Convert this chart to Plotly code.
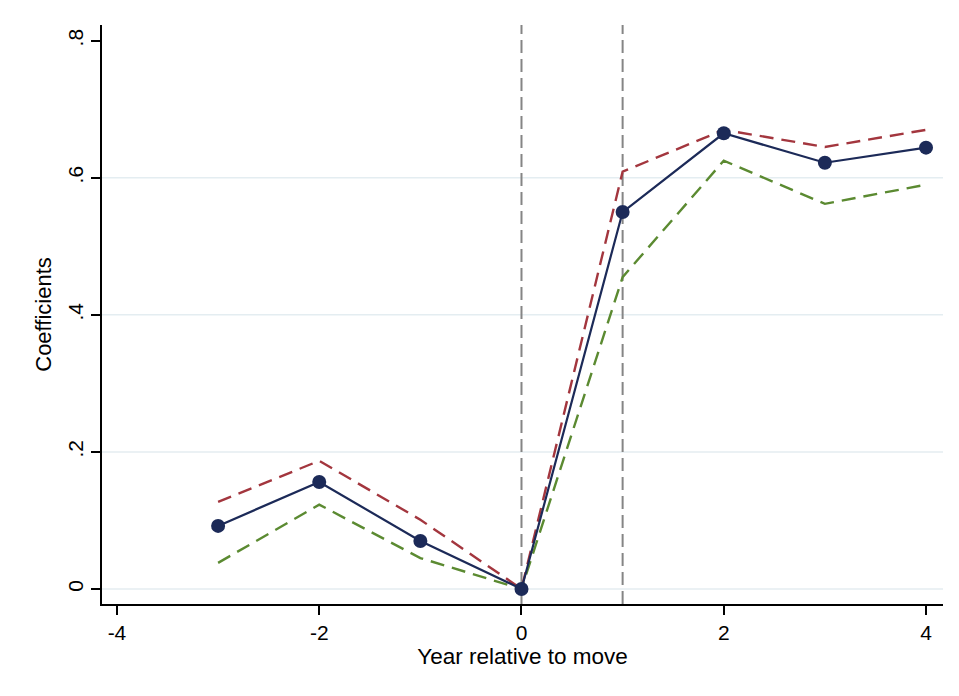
import plotly.graph_objects as go

years = [-3, -2, -1, 0, 1, 2, 3, 4]
coef = [0.092, 0.156, 0.070, 0.0, 0.550, 0.665, 0.622, 0.644]
upper = [0.127, 0.187, 0.101, 0.0, 0.609, 0.670, 0.645, 0.670]
lower = [0.038, 0.123, 0.045, 0.0, 0.455, 0.625, 0.562, 0.590]
vlines = [0, 1]
ytick_vals = [0, 0.2, 0.4, 0.6, 0.8]
ytick_text = ["0", ".2", ".4", ".6", ".8"]
grid_vals = [0, 0.2, 0.4, 0.6]
xtick_vals = [-4, -2, 0, 2, 4]
xtick_text = ["-4", "-2", "0", "2", "4"]

fig = go.Figure()
fig.add_trace(go.Scatter(x=years, y=upper, mode="lines",
                         line=dict(color="#a3363e", width=2.4, dash="14px,8px")))
fig.add_trace(go.Scatter(x=years, y=lower, mode="lines",
                         line=dict(color="#5b8a31", width=2.4, dash="14px,8px")))
fig.add_trace(go.Scatter(x=years, y=coef, mode="lines+markers",
                         line=dict(color="#1c2a58", width=2.2),
                         marker=dict(color="#1c2a58", size=14)))

shapes = []
for g in grid_vals:
    shapes.append(dict(type="line", xref="paper", x0=0, x1=1, yref="y", y0=g, y1=g,
                       line=dict(color="#e4edf1", width=1.5), layer="below"))
for v in vlines:
    shapes.append(dict(type="line", xref="x", x0=v, x1=v, yref="paper", y0=0, y1=1,
                       line=dict(color="#858585", width=2, dash="13px,6px"), layer="below"))

fig.update_layout(
    width=959, height=696,
    margin=dict(l=94, r=24, t=17, b=100, autoexpand=False),
    plot_bgcolor="white", paper_bgcolor="white",
    showlegend=False,
    shapes=shapes,
    font=dict(family="Liberation Sans, Arial, sans-serif", color="black"),
    xaxis=dict(range=[-4.148, 4.168], tickvals=xtick_vals, ticktext=xtick_text,
               showgrid=False, zeroline=False,
               showline=True, linecolor="black", linewidth=1.5,
               ticks="outside", ticklen=9, tickwidth=1.5, tickcolor="black",
               tickfont=dict(size=21),
               title=dict(text="Year relative to move", font=dict(size=22.5), standoff=2)),
    yaxis=dict(range=[-0.022, 0.823], tickvals=ytick_vals, ticktext=ytick_text,
               showgrid=False, zeroline=False,
               showline=True, linecolor="black", linewidth=1.5,
               ticks="outside", ticklen=9, tickwidth=1.5, tickcolor="black",
               tickangle=-90, tickfont=dict(size=21),
               title=dict(text="Coefficients", font=dict(size=22), standoff=6)),
)

fig.write_html("out.html")
